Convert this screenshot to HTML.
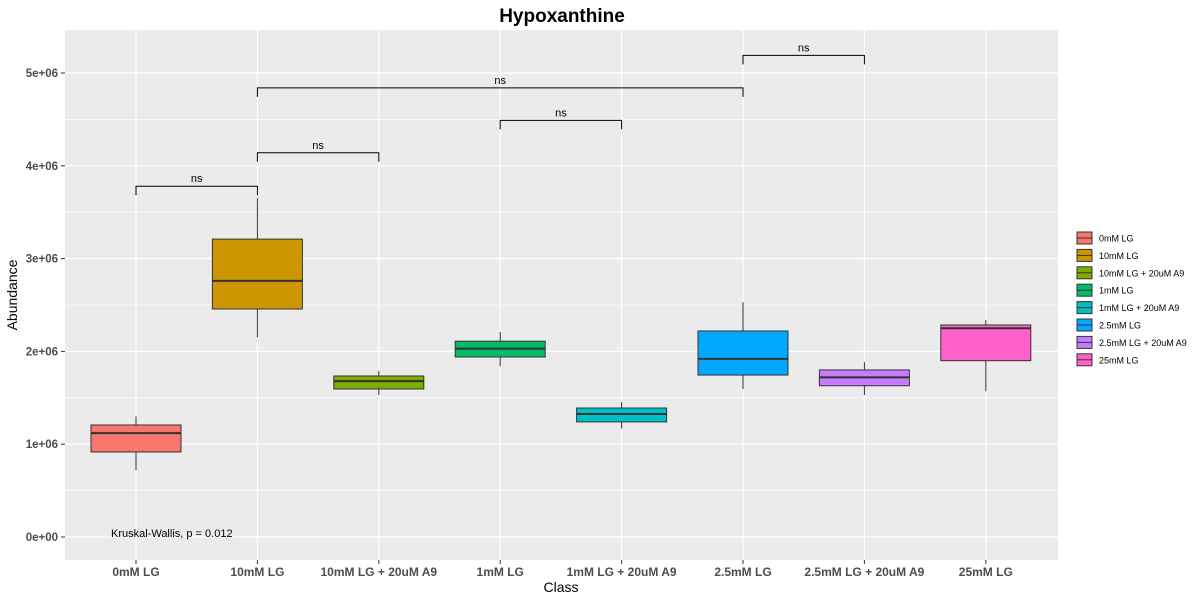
<!DOCTYPE html>
<html><head><meta charset="utf-8"><style>
body{margin:0;background:#fff;font-family:"Liberation Sans",Arial,sans-serif}
</style></head><body>
<svg id="chart" width="1200" height="600" xmlns="http://www.w3.org/2000/svg" font-family="Liberation Sans, Arial, sans-serif">
<rect width="1200" height="600" fill="#fff"/>
<text x="562" y="22" text-anchor="middle" font-size="19" font-weight="bold">Hypoxanthine</text>
<rect x="65" y="30" width="993" height="530" fill="#EBEBEB"/>
<g id="grid"></g><g id="boxes"></g><g id="brackets"></g><g id="axes"></g><g id="legend"></g>
<text x="111" y="537" font-size="11">Kruskal-Wallis, p = 0.012</text>
<text x="561" y="592" text-anchor="middle" font-size="14">Class</text>
<text transform="translate(17,295) rotate(-90)" text-anchor="middle" font-size="14">Abundance</text>
</svg>
<script>
const categories=["0mM LG","10mM LG","10mM LG + 20uM A9","1mM LG","1mM LG + 20uM A9","2.5mM LG","2.5mM LG + 20uM A9","25mM LG"];
const colors=["#F8766D","#CD9600","#7CAE00","#00BE67","#00BFC4","#00A9FF","#C77CFF","#FF61CC"];
const whiskLow=[0.72,2.15,1.53,1.84,1.17,1.595,1.53,1.57];
const q1=[0.916,2.457,1.595,1.94,1.24,1.745,1.63,1.90];
const median=[1.12,2.76,1.68,2.03,1.325,1.92,1.72,2.25];
const q3=[1.207,3.21,1.735,2.11,1.39,2.22,1.80,2.285];
const whiskHigh=[1.30,3.65,1.79,2.21,1.455,2.53,1.885,2.34];
const yTicks=[0,1,2,3,4,5];
const yTickLabels=["0e+00","1e+06","2e+06","3e+06","4e+06","5e+06"];
const bracketFrom=[0,1,3,1,5];
const bracketTo=[1,2,4,5,6];
const bracketY=[3.78,4.14,4.49,4.84,5.19];
const bracketLabel=["ns","ns","ns","ns","ns"];
const NS="http://www.w3.org/2000/svg";
const xs=i=>136+i*121.4;
const ys=v=>537-v*92.8;
function mk(tag,attrs,parent,text){const e=document.createElementNS(NS,tag);for(const k in attrs)e.setAttribute(k,attrs[k]);if(text!==undefined)e.textContent=text;document.getElementById(parent).appendChild(e);return e;}
// grid
for(let v=-0.5;v<=5.5;v+=0.5){const y=ys(v);if(y<30||y>560)continue;const l=mk('line',{x1:65,x2:1058,y1:y,y2:y,stroke:'#fff','stroke-width':Number.isInteger(v)?1.2:0.6},'grid');

}
categories.forEach((c,i)=>{const l=mk('line',{x1:xs(i),x2:xs(i),y1:30,y2:560,stroke:'#fff','stroke-width':1.2},'grid');

});
// boxes
categories.forEach((c,i)=>{const x=xs(i),w=45;
const g=mk('g',{},'boxes');


const ln=(a)=>{const e=document.createElementNS(NS,'line');for(const k in a)e.setAttribute(k,a[k]);e.setAttribute('stroke','#333');g.appendChild(e);return e;};
ln({x1:x,x2:x,y1:ys(whiskLow[i]),y2:ys(q1[i])});
ln({x1:x,x2:x,y1:ys(q3[i]),y2:ys(whiskHigh[i])});
const r=document.createElementNS(NS,'rect');r.setAttribute('x',x-w);r.setAttribute('width',2*w);r.setAttribute('y',ys(q3[i]));r.setAttribute('height',ys(q1[i])-ys(q3[i]));r.setAttribute('fill',colors[i]);r.setAttribute('stroke','#333');g.appendChild(r);
const m=ln({x1:x-w,x2:x+w,y1:ys(median[i]),y2:ys(median[i])});m.setAttribute('stroke-width','2');
});
// brackets
bracketFrom.forEach((f,k)=>{const x1=xs(f),x2=xs(bracketTo[k]),y=ys(bracketY[k]);
const p=mk('path',{d:`M${x1},${y+9}V${y}H${x2}V${y+9}`,fill:'none',stroke:'#000','stroke-width':1},'brackets');


const t=mk('text',{x:(x1+x2)/2,y:y-4,'text-anchor':'middle','font-size':11},'brackets',bracketLabel[k]);

});
// axes
yTicks.forEach((v,k)=>{const y=ys(v);mk('line',{x1:61,x2:65,y1:y,y2:y,stroke:'#333'},'axes');
const t=mk('text',{x:58,y:y+4,'text-anchor':'end','font-size':11.5,'font-weight':'bold',fill:'#4D4D4D'},'axes',yTickLabels[k]);

});
categories.forEach((c,i)=>{const x=xs(i);mk('line',{x1:x,x2:x,y1:560,y2:564,stroke:'#333'},'axes');
const t=mk('text',{x:x,y:576,'text-anchor':'middle','font-size':12,'font-weight':'bold',fill:'#4D4D4D'},'axes',c);

});
// legend
categories.forEach((c,i)=>{const y=238+i*17.4;
const g=mk('g',{},'legend');


const r=document.createElementNS(NS,'rect');r.setAttribute('x',1077);r.setAttribute('y',y-6);r.setAttribute('width',15);r.setAttribute('height',12);r.setAttribute('fill',colors[i]);r.setAttribute('stroke','#333');g.appendChild(r);
const l=document.createElementNS(NS,'line');l.setAttribute('x1',1077);l.setAttribute('x2',1092);l.setAttribute('y1',y);l.setAttribute('y2',y);l.setAttribute('stroke','#333');g.appendChild(l);
const t=document.createElementNS(NS,'text');t.setAttribute('x',1099);t.setAttribute('y',y+3.5);t.setAttribute('font-size',9);t.textContent=c;g.appendChild(t);});
</script>
</body></html>
